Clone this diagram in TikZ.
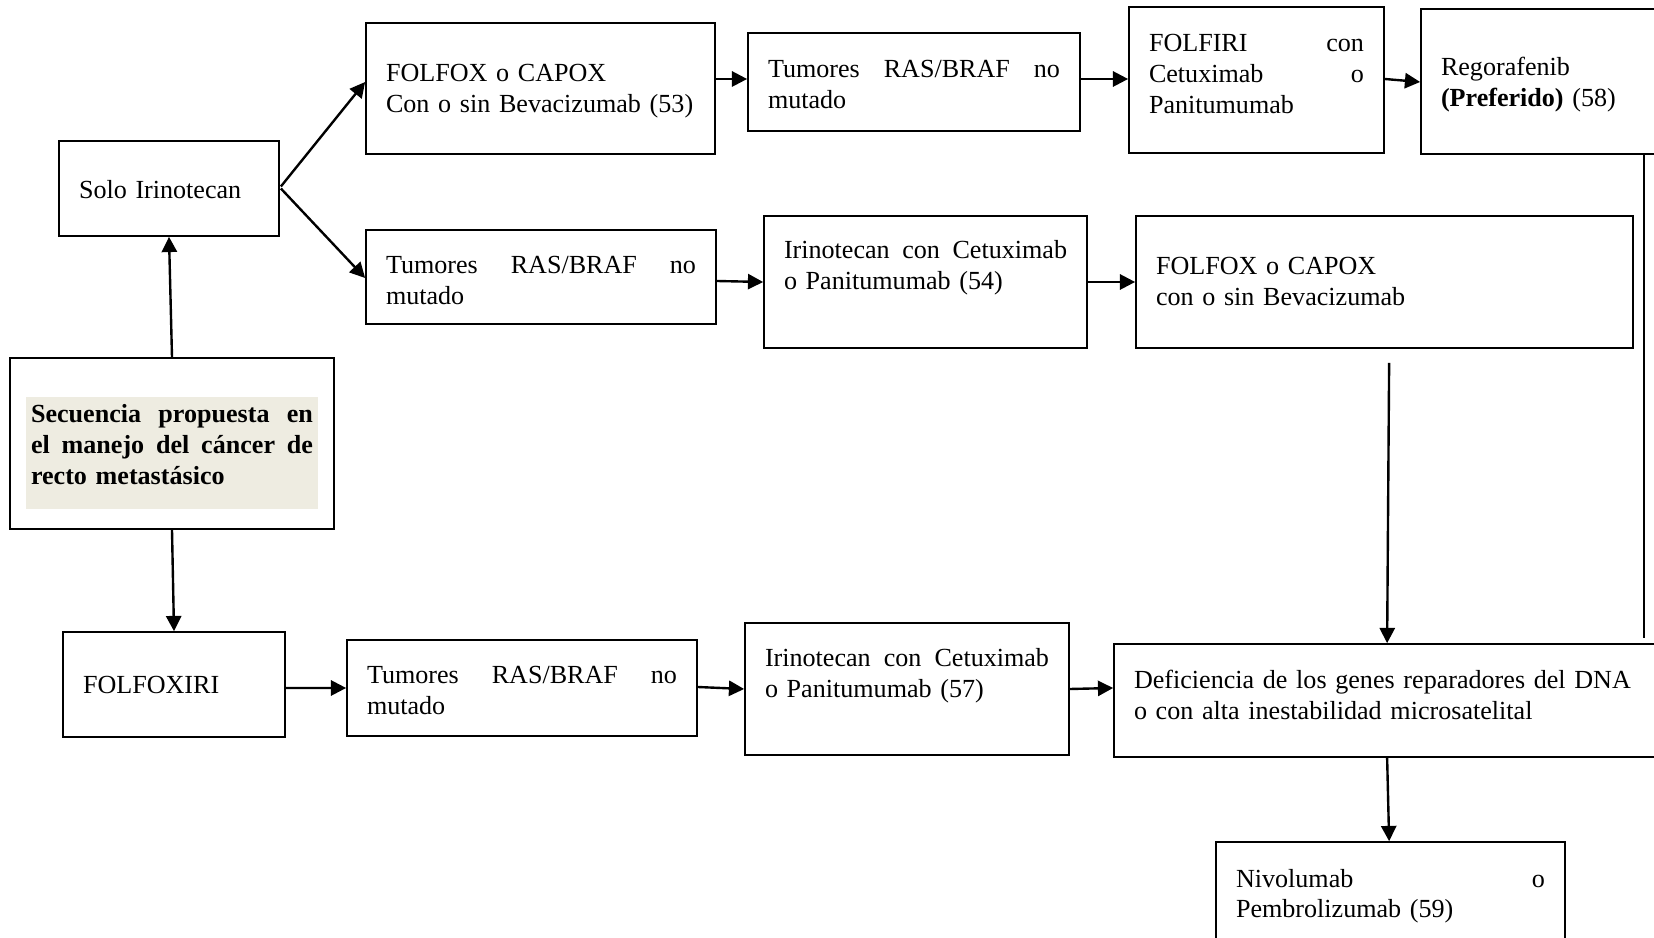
\documentclass[tikz,border=0pt]{standalone}
\usepackage{fontspec}
\setmainfont{Liberation Serif}
\usetikzlibrary{arrows.meta,calc}
\definecolor{titleshade}{HTML}{EEECE1}

% one justified line: words separated by \hfill fill the text width
\newcommand\spreadline[1]{\makebox[\hsize][s]{#1}}

% rectangular step box given by its corners and the offset of the
% first baseline from its top edge, all in px units
\newcommand\flowbox[7]{%
  \pgfmathsetlengthmacro\boxw{(#4-#2)*0.46pt}%
  \pgfmathsetlengthmacro\boxh{(#5-#3)*0.46pt}%
  \pgfmathsetlengthmacro\boxt{(#4-#2-40)*0.46pt}%
  \pgfmathsetlengthmacro\boxa{#6*0.46pt}%
  \pgfmathsetlengthmacro\boxd{(#5-#3-#6)*0.46pt}%
  \node[box, minimum width=\boxw, minimum height=\boxh, text width=\boxt,
        text height=\boxa, text depth=\boxd]
    (#1) at ({(#2+#4)/2},{(#3+#5)/2}) {#7};}

\begin{document}
\begin{tikzpicture}[x=0.46pt, y=-0.46pt,
  box/.style={draw, line width=0.8pt, inner xsep=9.2pt, inner ysep=0pt,
              align=left, font=\fontsize{12}{14.1}\selectfont},
  conn/.style={line width=1.1pt, -{Triangle[length=7pt,width=7pt]}},
  plainline/.style={line width=1.1pt}]

\useasboundingbox (0,0) rectangle (1654,938);
\fill[white] (0,0) rectangle (1654,938);
\clip (0,0) rectangle (1654,938);

% ---- left column
\flowbox{si}{59}{141}{279}{236}{58}{Solo Irinotecan}
\flowbox{sec}{10}{358}{334}{529}{86}{}
\node[fill=titleshade, inner xsep=2.3pt, inner ysep=0pt,
      minimum width=292*0.46pt, text width=282*0.46pt,
      text height=26*0.46pt, text depth=86*0.46pt,
      align=left, font=\fontsize{12}{14.1}\selectfont\bfseries]
  (sectitle) at (172,453)
  {\spreadline{Secuencia\hfill propuesta\hfill en}\\
   \spreadline{el\hfill manejo\hfill del\hfill cáncer\hfill de}\\
   recto metastásico};
\flowbox{fx}{63}{632}{285}{737}{62}{FOLFOXIRI}

% ---- top row
\flowbox{ft}{366}{23}{715}{154}{59}{FOLFOX o CAPOX\\Con o sin Bevacizumab (53)}
\flowbox{rt}{748}{33}{1080}{131}{45}{\spreadline{Tumores\hfill RAS/BRAF\hfill no}\\mutado}
\flowbox{ff}{1129}{7}{1384}{153}{45}{\spreadline{FOLFIRI\hfill con}\\\spreadline{Cetuximab\hfill o}\\Panitumumab}
\flowbox{rg}{1421}{9}{1690}{154}{67}{Regorafenib\\\textbf{(Preferido)} (58)}

% ---- middle row
\flowbox{tm}{366}{230}{716}{324}{44}{\spreadline{Tumores\hfill RAS/BRAF\hfill no}\\mutado}
\flowbox{im}{764}{216}{1087}{348}{43}{\spreadline{Irinotecan\hfill con\hfill Cetuximab}\\o Panitumumab (54)}
\flowbox{fm}{1136}{216}{1633}{348}{59}{FOLFOX o CAPOX\\con o sin Bevacizumab}

% ---- bottom row
\flowbox{tb}{347}{640}{697}{736}{44}{\spreadline{Tumores\hfill RAS/BRAF\hfill no}\\mutado}
\flowbox{ib}{745}{623}{1069}{755}{44}{\spreadline{Irinotecan\hfill con\hfill Cetuximab}\\o Panitumumab (57)}
\flowbox{dna}{1114}{644}{1690}{757}{45}{Deficiencia de los genes reparadores del DNA\\o con alta inestabilidad microsatelital}
\flowbox{nv}{1216}{842}{1565}{960}{45}{\spreadline{Nivolumab\hfill o}\\Pembrolizumab (59)}

% ---- connectors
\draw[conn] (sec.north) -- (si.south);
\draw[conn] (sec.south) -- (fx.north);
\draw[conn] ($(si.east)+(1,-2)$) -- ($(ft.west)+(0,-6.5)$);
\draw[conn] ($(si.east)+(1,0)$) -- ($(tm.west)+(0,1)$);
\draw[conn] ($(ft.east)+(0,-9.5)$) -- ($(rt.west)+(0,-3)$);
\draw[conn] ($(rt.east)+(0,-3)$) -- ($(ff.west)+(0,-1)$);
\draw[conn] ($(ff.east)+(0,-1)$) -- ($(rg.west)+(0,0.5)$);
\draw[conn] ($(tm.east)+(0,4)$) -- (im.west);
\draw[conn] (im.east) -- (fm.west);
\draw[conn] ($(fm.south west)+(254,14)$) -- ($(dna.north west)+(274,0)$);
\draw[plainline] ($(rg.south west)+(224,0)$) -- ($(dna.north west)+(531,-5)$);
\draw[conn] ($(fx.east)+(0,3.5)$) -- (tb.west);
\draw[conn] ($(tb.east)+(0,-1)$) -- (ib.west);
\draw[conn] (ib.east) -- ($(dna.west)+(0,-12.5)$);
\draw[conn] ($(dna.south west)+(274,0)$) -- ($(nv.north west)+(174,0)$);

\end{tikzpicture}
\end{document}
